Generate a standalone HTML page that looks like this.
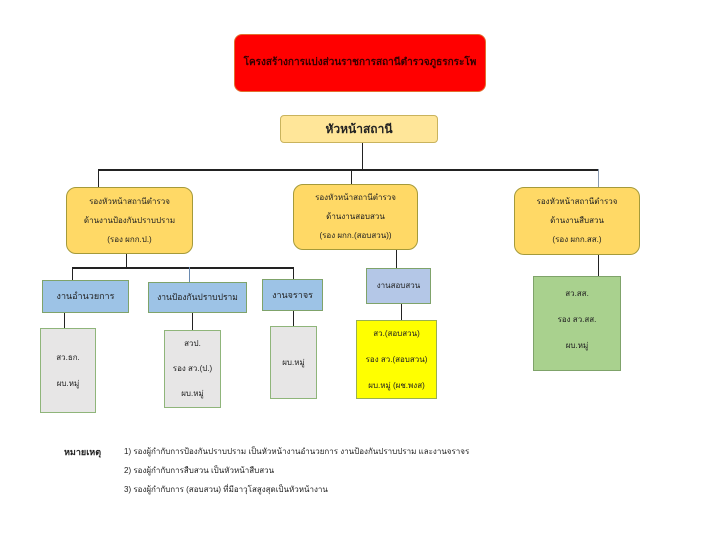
<!DOCTYPE html>
<html><head><meta charset="utf-8"><style>
body{margin:0;width:720px;height:556px;background:#fff;position:relative;overflow:hidden;font-family:"Liberation Sans","DejaVu Sans",sans-serif;}
.b{position:absolute;box-sizing:border-box;display:flex;flex-direction:column;align-items:center;justify-content:center;text-align:center;color:#222;font-size:8px;line-height:1;}
.l{position:absolute;background:#222;}
.y{background:#ffd966;border:1px solid #a59a3a;border-radius:10px;}
.bl{background:#9dc3e6;border:1.5px solid #7fa36a;font-size:9px;}
.g{background:#e7e6e6;border:1.5px solid #8fb57a;}
.n{position:absolute;font-size:8px;color:#222;white-space:nowrap;}
</style></head><body>
<div class="b" style="left:234px;top:34px;width:252px;height:58px;background:#ff0000;border:1px solid #e07030;border-radius:8px;font-size:10px;font-weight:bold;color:#300;">โครงสร้างการแบ่งส่วนราชการสถานีตำรวจภูธรกระโพ</div>
<div class="b" style="left:280px;top:115px;width:158px;height:28px;background:#ffe699;border:1px solid #c9b35d;border-radius:4px;font-size:12px;font-weight:bold;">หัวหน้าสถานี</div>
<div class="l" style="left:362px;top:143px;width:1px;height:27px"></div>
<div class="l" style="left:98px;top:169px;width:501px;height:1.5px"></div>
<div class="l" style="left:98px;top:169px;width:1px;height:18px"></div>
<div class="l" style="left:351px;top:169px;width:1px;height:15px"></div>
<div class="l" style="left:598px;top:169px;width:1px;height:18px;background:#8a9ab0"></div>
<div class="b y" style="left:66px;top:187px;width:127px;height:67px;"><div>รองหัวหน้าสถานีตำรวจ</div><div style="margin:11px 0">ด้านงานป้องกันปราบปราม</div><div>(รอง ผกก.ป.)</div></div>
<div class="b y" style="left:293px;top:184px;width:125px;height:66px;"><div>รองหัวหน้าสถานีตำรวจ</div><div style="margin:11px 0">ด้านงานสอบสวน</div><div>(รอง ผกก.(สอบสวน))</div></div>
<div class="b y" style="left:514px;top:187px;width:126px;height:68px;"><div>รองหัวหน้าสถานีตำรวจ</div><div style="margin:11px 0">ด้านงานสืบสวน</div><div>(รอง ผกก.สส.)</div></div>
<div class="l" style="left:126px;top:254px;width:1px;height:13px"></div>
<div class="l" style="left:72px;top:267px;width:222px;height:1.5px"></div>
<div class="l" style="left:72px;top:267px;width:1px;height:13px"></div>
<div class="l" style="left:189px;top:267px;width:1px;height:15px;background:#6a8ab0"></div>
<div class="l" style="left:293px;top:267px;width:1px;height:12px"></div>
<div class="b bl" style="left:42px;top:280px;width:87px;height:33px;">งานอำนวยการ</div>
<div class="b bl" style="left:148px;top:282px;width:99px;height:31px;font-size:8.5px">งานป้องกันปราบปราม</div>
<div class="b bl" style="left:262px;top:279px;width:61px;height:32px;">งานจราจร</div>
<div class="l" style="left:64px;top:313px;width:1px;height:15px"></div>
<div class="l" style="left:192px;top:313px;width:1px;height:17px"></div>
<div class="l" style="left:293px;top:311px;width:1px;height:15px"></div>
<div class="b g" style="left:40px;top:328px;width:56px;height:85px;"><div>สว.ธก.</div><div style="margin-top:18px">ผบ.หมู่</div></div>
<div class="b g" style="left:164px;top:330px;width:57px;height:78px;"><div>สวป.</div><div style="margin:17px 0">รอง สว.(ป.)</div><div>ผบ.หมู่</div></div>
<div class="b g" style="left:270px;top:326px;width:47px;height:73px;">ผบ.หมู่</div>
<div class="l" style="left:396px;top:250px;width:1px;height:18px"></div>
<div class="b" style="left:366px;top:268px;width:65px;height:36px;background:#b4c7e7;border:1.5px solid #7fa36a;">งานสอบสวน</div>
<div class="l" style="left:401px;top:304px;width:1px;height:16px"></div>
<div class="b" style="left:356px;top:320px;width:81px;height:79px;background:#ffff00;border:1.5px solid #9ab050;"><div>สว.(สอบสวน)</div><div style="margin:18px 0">รอง สว.(สอบสวน)</div><div>ผบ.หมู่ (ผช.พงส)</div></div>
<div class="l" style="left:598px;top:255px;width:1px;height:21px"></div>
<div class="b" style="left:533px;top:276px;width:88px;height:95px;background:#a9d18e;border:1.5px solid #7fa36a;justify-content:flex-start;padding-top:13px;"><div>สว.สส.</div><div style="margin:18px 0">รอง สว.สส.</div><div>ผบ.หมู่</div></div>
<div class="n" style="left:64px;top:445px;font-weight:bold;font-size:9px">หมายเหตุ</div>
<div class="n" style="left:124px;top:445px">1) รองผู้กำกับการป้องกันปราบปราม เป็นหัวหน้างานอำนวยการ งานป้องกันปราบปราม และงานจราจร</div>
<div class="n" style="left:124px;top:464px">2) รองผู้กำกับการสืบสวน เป็นหัวหน้าสืบสวน</div>
<div class="n" style="left:124px;top:483px">3) รองผู้กำกับการ (สอบสวน) ที่มีอาวุโสสูงสุดเป็นหัวหน้างาน</div>
</body></html>
